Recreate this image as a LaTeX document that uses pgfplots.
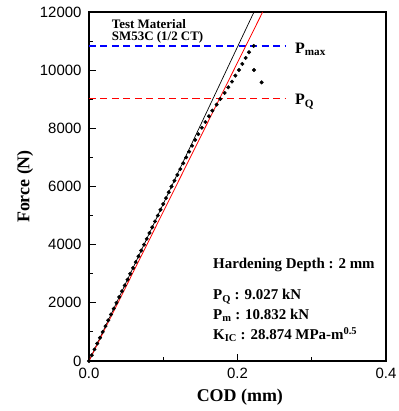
\documentclass[border=0pt]{standalone}
\usepackage{pgfplots}
\pgfplotsset{compat=1.18}
\usepackage{fontspec}
\setmainfont{Liberation Serif}
\setsansfont{Liberation Sans}
\definecolor{pblue}{RGB}{0,0,255}
\definecolor{pred}{RGB}{255,0,0}
\begin{document}
\begin{tikzpicture}
\begin{axis}[
 scale only axis, width=297bp, height=349bp,
 xmin=0, xmax=0.4, ymin=0, ymax=12000,
 axis line style={line width=1.1bp},
 xtick={0,0.2,0.4}, minor xtick={0.1,0.3},
 ytick={0,2000,4000,6000,8000,10000,12000},
 minor ytick={1000,3000,5000,7000,9000,11000},
 tick align=inside, tick pos=left,
 major tick length=7bp, minor tick length=4bp,
 tick style={line width=0.9bp, black},
 scaled y ticks=false, scaled x ticks=false,
 x tick label style={/pgf/number format/fixed, /pgf/number format/fixed zerofill, /pgf/number format/precision=1, yshift=-4bp},
 y tick label style={/pgf/number format/fixed, /pgf/number format/1000 sep={}, xshift=-4bp},
 /pgf/number format/assume math mode=true,
 ticklabel style={font=\sffamily\fontsize{15}{17}\selectfont},
 xlabel={COD (mm)},
 ylabel={Force (N)},
 xlabel style={font=\bfseries\fontsize{18}{20}\selectfont, at={(axis description cs:0.508,-0.104)}, anchor=center},
 ylabel style={font=\bfseries\fontsize{18}{20}\selectfont, at={(axis description cs:-0.215,0.5)}, anchor=center},
 clip=true,
]
\addplot[draw=pblue, line width=1.1bp, dash pattern=on 7bp off 4.5bp] coordinates {(0,10832) (0.265,10832)};
\addplot[draw=pred, line width=1.1bp, dash pattern=on 7bp off 4.5bp] coordinates {(0,9027) (0.265,9027)};
\addplot[draw=black, line width=0.7bp] coordinates {(0,0) (0.2222,12000)};
\addplot[draw=pred, line width=0.8bp] coordinates {(0,0) (0.2339,12000)};
\addplot[only marks, mark=*, mark size=1.8bp, black] coordinates {
(0,0) (0.0037,200) (0.0074,400) (0.0111,600) (0.0148,800) (0.0185,1000)
(0.0222,1200) (0.0259,1400) (0.0296,1600) (0.0333,1800) (0.0370,2000)
(0.0407,2200) (0.0444,2400) (0.0481,2600) (0.0519,2800) (0.0556,3000)
(0.0593,3200) (0.0630,3400) (0.0667,3600) (0.0704,3800) (0.0741,4000)
(0.0778,4200) (0.0815,4400) (0.0852,4600) (0.0889,4800) (0.0926,5000)
(0.0963,5200) (0.1000,5400) (0.1037,5600) (0.1074,5800) (0.1111,6000)
(0.1151,6200) (0.1190,6400) (0.1230,6600) (0.1269,6800) (0.1309,7000)
(0.1349,7200) (0.1389,7400) (0.1430,7600) (0.1472,7800) (0.1520,8020)
(0.1567,8218) (0.1616,8414) (0.1661,8608) (0.1719,8814) (0.1768,9010)
(0.1827,9216) (0.1876,9411) (0.1926,9605) (0.1971,9811) (0.2020,10007)
(0.2065,10213) (0.2110,10420) (0.2155,10615) (0.2218,10832)
(0.2222,10007) (0.2325,9580)
};
\node[anchor=base west, font=\bfseries\fontsize{13}{15}\selectfont, inner sep=0pt] at (axis cs:0.0306,11441) {Test Material};
\node[anchor=base west, font=\bfseries\fontsize{13}{15}\selectfont, inner sep=0pt] at (axis cs:0.0306,11014) {SM53C (1/2 CT)};
\node[anchor=base west, font=\bfseries\fontsize{16}{18}\selectfont, inner sep=0pt] at (axis cs:0.2774,10581) {P\textsubscript{max}};
\node[anchor=base west, font=\bfseries\fontsize{16}{18}\selectfont, inner sep=0pt] at (axis cs:0.2774,8803) {P\textsubscript{Q}};
\node[anchor=base west, font=\bfseries\fontsize{15}{17}\selectfont, inner sep=0pt] at (axis cs:0.167,3188) {Hardening Depth : 2 mm};
\node[anchor=base west, font=\bfseries\fontsize{15}{17}\selectfont, inner sep=0pt] at (axis cs:0.167,2098) {P\textsubscript{Q} : 9.027 kN};
\node[anchor=base west, font=\bfseries\fontsize{15}{17}\selectfont, inner sep=0pt] at (axis cs:0.167,1434) {P\textsubscript{m} : 10.832 kN};
\node[anchor=base west, font=\bfseries\fontsize{15}{17}\selectfont, inner sep=0pt] at (axis cs:0.167,746) {K\textsubscript{IC} : 28.874 MPa-m\textsuperscript{0.5}};
\end{axis}
\pgfresetboundingbox
\path (current axis.south west) ++(-89bp,-50bp);
\path (current axis.north east) ++(13bp,12bp);
\end{tikzpicture}
\end{document}
